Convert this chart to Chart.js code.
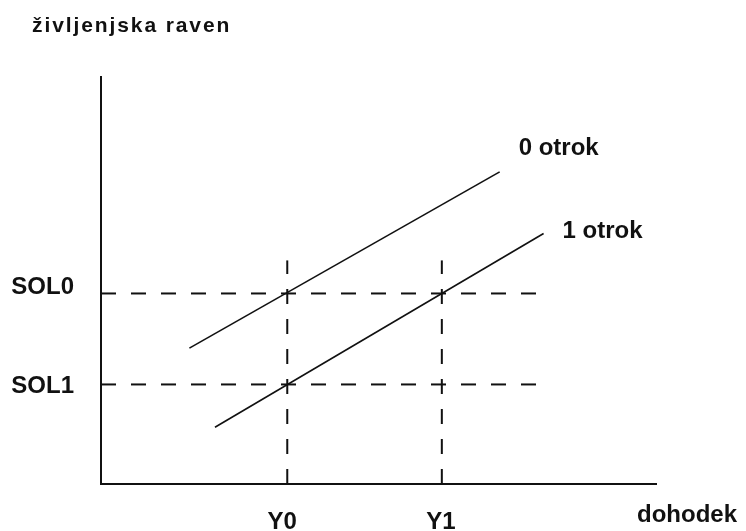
<!DOCTYPE html>
<html>
<head>
<meta charset="utf-8">
<script src="https://cdn.jsdelivr.net/npm/chart.js@4"></script>
<style>
  html, body { margin: 0; padding: 0; background: #fff; }
  #wrap { width: 746px; height: 531px; }
</style>
</head>
<body>
<div id="wrap"><canvas id="chart" width="746" height="531"></canvas></div>
<script>
// osi (abstraktne enote)
const xMax = 10;
const yMax = 10;

// oznake na oseh
const xTickLabels = ['Y0', 'Y1'];
const xTickValues = [3.35, 6.13];
const yTickLabels = ['SOL0', 'SOL1'];
const yTickValues = [4.67, 2.44];

// krivulje: 0 otrok, 1 otrok
const line0X = [1.59, 7.17];
const line0Y = [3.33, 7.65];
const line1X = [2.05, 7.96];
const line1Y = [1.39, 6.14];

// dolžine črtkanih pomožnih črt
const hDashEnd = 7.87;
const vDashTop = 5.48;

const seriesNames = ['0 otrok', '1 otrok'];
const titleY = 'življenjska raven';
const titleX = 'dohodek';

const ink = '#111';

const toPoints = (xs, ys) => xs.map((x, i) => ({ x: x, y: ys[i] }));

const datasets = [];

// osi
datasets.push({
    data: [{ x: 0, y: yMax }, { x: 0, y: 0 }, { x: xMax, y: 0 }],
    borderColor: ink, borderWidth: 2
});

// vodoravne črtkane črte (SOL0, SOL1)
yTickValues.forEach(v => {
    datasets.push({
        data: [{ x: 0, y: v }, { x: hDashEnd, y: v }],
        borderColor: ink, borderWidth: 2, borderDash: [15, 15]
    });
});

// navpične črtkane črte (Y0, Y1)
xTickValues.forEach(v => {
    datasets.push({
        data: [{ x: v, y: 0 }, { x: v, y: vDashTop }],
        borderColor: ink, borderWidth: 2, borderDash: [15, 15]
    });
});

// krivulji
datasets.push({ label: seriesNames[0], data: toPoints(line0X, line0Y), borderColor: ink, borderWidth: 1.6 });
datasets.push({ label: seriesNames[1], data: toPoints(line1X, line1Y), borderColor: ink, borderWidth: 1.6 });

datasets.forEach(d => {
    d.showLine = true;
    d.pointRadius = 0;
    d.clip = false;
    d.fill = false;
});

// --- oznake besedila ---
const labelPlugin = {
    id: 'labels',
    afterDraw(chart) {
        const ctx = chart.ctx;
        const sx = chart.scales.x;
        const sy = chart.scales.y;
        const area = chart.chartArea;
        ctx.save();
        ctx.fillStyle = ink;
        ctx.textBaseline = 'alphabetic';

        // naslov osi y
        ctx.font = 'bold 21px "Liberation Sans", Arial, sans-serif';
        ctx.letterSpacing = '1.9px';
        ctx.textAlign = 'left';
        ctx.fillText(titleY, 32, 32);
        ctx.letterSpacing = '0px';

        ctx.font = 'bold 24px "Liberation Sans", Arial, sans-serif';

        // SOL0, SOL1
        ctx.textAlign = 'right';
        yTickLabels.forEach((t, i) => {
            const y = sy.getPixelForValue(yTickValues[i]);
            ctx.fillText(t, area.left - 27, y + (i === 0 ? 1 : 9));
        });

        // Y0, Y1
        ctx.textAlign = 'center';
        xTickLabels.forEach((t, i) => {
            const x = sx.getPixelForValue(xTickValues[i]);
            ctx.fillText(t, x + (i === 0 ? -5 : -1), area.bottom + 45);
        });

        // naslov osi x
        ctx.textAlign = 'left';
        ctx.fillText(titleX, area.right - 20, area.bottom + 38);

        // imena krivulj
        const x0 = sx.getPixelForValue(line0X[1]);
        const y0 = sy.getPixelForValue(line0Y[1]);
        ctx.fillText(seriesNames[0], x0 + 19, y0 - 17);
        const x1 = sx.getPixelForValue(line1X[1]);
        const y1 = sy.getPixelForValue(line1Y[1]);
        ctx.fillText(seriesNames[1], x1 + 19, y1 + 5);

        ctx.restore();
    }
};

new Chart(document.getElementById('chart').getContext('2d'), {
    type: 'scatter',
    data: { datasets: datasets },
    options: {
        responsive: false,
        animation: false,
        events: [],
        layout: { padding: { left: 101, top: 76, right: 89, bottom: 47 } },
        scales: {
            x: { type: 'linear', min: 0, max: xMax, display: false },
            y: { type: 'linear', min: 0, max: yMax, display: false }
        },
        plugins: {
            legend: { display: false },
            tooltip: { enabled: false }
        }
    },
    plugins: [labelPlugin]
});
</script>
</body>
</html>
